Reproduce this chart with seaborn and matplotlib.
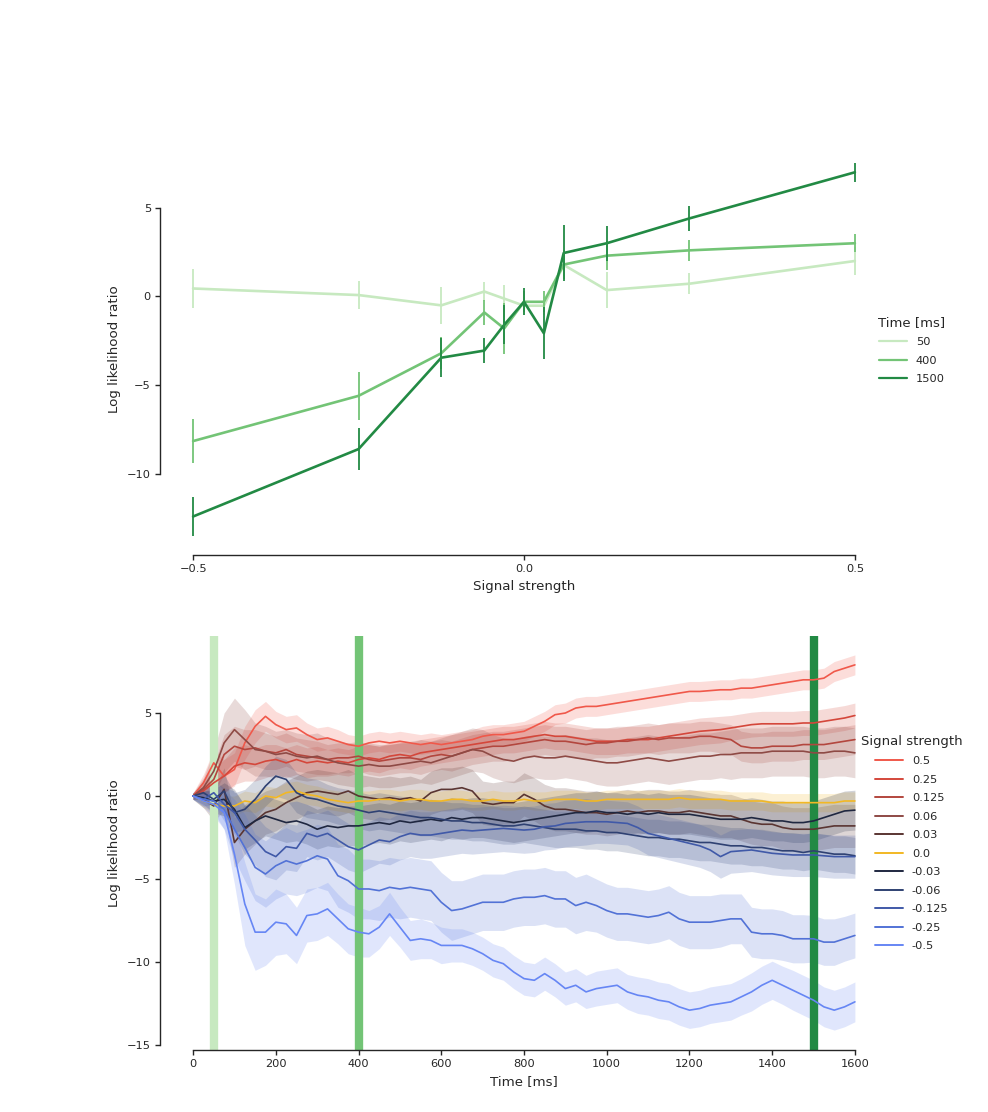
import numpy as np
import pandas as pd
import matplotlib
matplotlib.use("Agg")
import matplotlib.pyplot as plt
from matplotlib.lines import Line2D
import seaborn as sns

# ---------------- data: top panel ----------------
signal_strength = [-0.5, -0.25, -0.125, -0.06, -0.03, 0.0, 0.03, 0.06, 0.125, 0.25, 0.5]
time_labels = ["50", "400", "1500"]
llr_t50 = [0.45, 0.08, -0.5, 0.28, -0.12, -0.52, -0.52, 1.78, 0.36, 0.72, 2.0]
err_t50 = [1.1, 0.8, 1.05, 0.55, 0.75, 0.5, 0.5, 0.6, 1.0, 0.6, 0.8]
llr_t400 = [-8.15, -5.6, -3.2, -0.9, -1.8, -0.3, -0.3, 1.8, 2.3, 2.6, 3.0]
err_t400 = [1.25, 1.35, 0.9, 0.7, 1.45, 0.6, 0.6, 0.8, 0.8, 0.6, 0.5]
llr_t1500 = [-12.4, -8.6, -3.45, -3.05, -1.6, -0.3, -2.07, 2.45, 3.0, 4.4, 7.0]
err_t1500 = [1.1, 1.2, 1.1, 0.7, 1.1, 0.75, 1.45, 1.6, 1.0, 0.7, 0.55]

# ---------------- data: bottom panel ----------------
time_ms = list(range(0, 1601, 25))
marker_times = [50, 400, 1500]
strength_labels = ["0.5", "0.25", "0.125", "0.06", "0.03", "0.0",
                   "-0.03", "-0.06", "-0.125", "-0.25", "-0.5"]

llr_p050 = [0.0, 0.8, 2.0, 1.2, 1.6, 3.2, 4.2, 4.8, 4.3, 4.0, 4.1, 3.7, 3.4,
            3.5, 3.3, 3.1, 3.0, 3.2, 3.3, 3.2, 3.3, 3.2, 3.1, 3.2, 3.1, 3.2,
            3.3, 3.4, 3.6, 3.7, 3.7, 3.8, 3.9, 4.2, 4.5, 4.9, 5.0, 5.3, 5.4,
            5.4, 5.5, 5.6, 5.7, 5.8, 5.9, 6.0, 6.1, 6.2, 6.3, 6.3, 6.35, 6.4,
            6.4, 6.5, 6.5, 6.6, 6.7, 6.8, 6.9, 7.0, 7.0, 7.1, 7.5, 7.7, 7.9]
ci_p050 = [0.2, 0.5, 0.8, 1.0, 1.0, 1.0, 1.0, 0.9, 0.8, 0.8, 0.8, 0.7, 0.7,
           0.7, 0.7, 0.6, 0.6, 0.6, 0.6, 0.6, 0.6, 0.6, 0.6, 0.6, 0.6, 0.6,
           0.6, 0.6, 0.6, 0.6, 0.6, 0.6, 0.6, 0.6, 0.6, 0.6, 0.6, 0.6, 0.6,
           0.6, 0.6, 0.6, 0.6, 0.6, 0.6, 0.6, 0.6, 0.6, 0.6, 0.6, 0.6, 0.6,
           0.6, 0.6, 0.6, 0.6, 0.6, 0.6, 0.6, 0.6, 0.6, 0.6, 0.6, 0.6, 0.6]

llr_p025 = [0.0, 0.3, 0.8, 1.2, 1.8, 2.0, 1.9, 2.1, 2.2, 2.0, 2.2, 2.0, 2.1,
            2.0, 2.1, 2.0, 2.2, 2.3, 2.2, 2.4, 2.5, 2.4, 2.6, 2.7, 2.8, 2.9,
            3.0, 3.1, 3.2, 3.3, 3.4, 3.4, 3.5, 3.6, 3.7, 3.6, 3.6, 3.5, 3.4,
            3.3, 3.3, 3.3, 3.4, 3.4, 3.4, 3.5, 3.6, 3.7, 3.8, 3.9, 3.95, 4.0,
            4.1, 4.2, 4.3, 4.35, 4.35, 4.35, 4.35, 4.4, 4.4, 4.5, 4.6, 4.7, 4.85]
ci_p025 = [0.2, 0.5, 0.8, 1.0, 1.1, 1.1, 1.0, 1.0, 0.9, 0.9, 0.9, 0.9, 0.9,
           0.8, 0.8, 0.8, 0.8, 0.8, 0.8, 0.8, 0.8, 0.8, 0.8, 0.8, 0.8, 0.8,
           0.8, 0.8, 0.8, 0.8, 0.8, 0.8, 0.8, 0.8, 0.8, 0.8, 0.8, 0.8, 0.8,
           0.8, 0.8, 0.8, 0.8, 0.8, 0.8, 0.8, 0.8, 0.8, 0.8, 0.8, 0.8, 0.8,
           0.75, 0.75, 0.75, 0.75, 0.75, 0.75, 0.75, 0.75, 0.75, 0.75, 0.75, 0.75, 0.75]

llr_p0125 = [0.0, 0.4, 1.0, 2.5, 3.0, 2.8, 2.9, 2.7, 2.6, 2.8, 2.5, 2.4, 2.3,
             2.2, 2.3, 2.3, 2.4, 2.2, 2.1, 2.2, 2.3, 2.3, 2.2, 2.4, 2.5, 2.4,
             2.6, 2.8, 2.9, 3.0, 3.0, 3.1, 3.2, 3.3, 3.4, 3.3, 3.3, 3.2, 3.1,
             3.2, 3.2, 3.3, 3.3, 3.4, 3.5, 3.4, 3.5, 3.5, 3.5, 3.6, 3.6, 3.5,
             3.4, 3.0, 2.9, 2.9, 3.0, 3.0, 3.0, 3.1, 3.1, 3.1, 3.2, 3.3, 3.4]
ci_p0125 = [0.2, 0.5, 0.9, 1.2, 1.2, 1.2, 1.1, 1.1, 1.0, 1.0, 1.0, 1.0, 1.0,
            0.9, 0.9, 0.9, 0.9, 0.9, 0.9, 0.9, 0.9, 0.9, 0.9, 0.9, 0.9, 0.9,
            0.9, 0.9, 0.9, 0.9, 0.9, 0.9, 0.9, 0.9, 0.9, 0.9, 0.9, 0.9, 0.9,
            0.9, 0.9, 0.9, 0.9, 0.9, 0.9, 0.9, 0.9, 0.9, 0.9, 0.9, 0.9, 0.9,
            0.9, 0.9, 0.9, 0.9, 0.9, 0.9, 0.9, 0.9, 0.9, 0.9, 0.9, 0.9, 0.9]

llr_p006 = [0.0, 0.5, 1.5, 3.2, 4.0, 3.4, 2.8, 2.7, 2.5, 2.6, 2.4, 2.3, 2.4,
            2.2, 2.0, 1.9, 1.8, 1.9, 1.8, 1.8, 1.9, 2.0, 2.1, 2.0, 2.2, 2.4,
            2.6, 2.8, 2.7, 2.4, 2.2, 2.1, 2.3, 2.4, 2.3, 2.3, 2.4, 2.3, 2.2,
            2.1, 2.0, 2.0, 2.1, 2.2, 2.3, 2.2, 2.1, 2.2, 2.3, 2.4, 2.4, 2.5,
            2.5, 2.6, 2.6, 2.6, 2.7, 2.7, 2.7, 2.7, 2.6, 2.6, 2.7, 2.7, 2.6]
ci_p006 = [0.2, 0.6, 1.2, 1.8, 1.9, 1.8, 1.6, 1.5, 1.4, 1.4, 1.4, 1.4, 1.4,
           1.3, 1.3, 1.3, 1.3, 1.3, 1.3, 1.3, 1.3, 1.3, 1.3, 1.3, 1.3, 1.3,
           1.3, 1.3, 1.3, 1.3, 1.3, 1.3, 1.3, 1.3, 1.3, 1.3, 1.3, 1.3, 1.3,
           1.4, 1.4, 1.4, 1.4, 1.4, 1.4, 1.4, 1.4, 1.4, 1.4, 1.4, 1.4, 1.4,
           1.5, 1.5, 1.5, 1.5, 1.5, 1.5, 1.5, 1.5, 1.5, 1.5, 1.5, 1.5, 1.5]

llr_p003 = [0.0, -0.2, -0.6, 0.4, -2.8, -2.0, -1.5, -1.0, -0.8, -0.4, -0.1, 0.2, 0.3,
            0.2, 0.1, 0.3, 0.0, -0.1, -0.2, -0.1, -0.2, -0.1, -0.3, 0.2, 0.4, 0.4,
            0.5, 0.3, -0.4, -0.5, -0.4, -0.4, 0.1, -0.2, -0.6, -0.8, -0.8, -0.9, -1.0,
            -1.0, -1.1, -1.0, -0.9, -1.0, -0.9, -0.9, -1.0, -1.0, -0.9, -1.0, -1.1, -1.2,
            -1.2, -1.4, -1.6, -1.7, -1.7, -1.9, -2.0, -2.0, -2.0, -1.9, -1.8, -1.8, -1.8]
ci_p003 = [0.2, 0.5, 0.9, 1.3, 1.5, 1.5, 1.4, 1.3, 1.3, 1.3, 1.3, 1.3, 1.3,
           1.3, 1.3, 1.3, 1.3, 1.3, 1.3, 1.3, 1.3, 1.3, 1.3, 1.3, 1.3, 1.3,
           1.3, 1.3, 1.3, 1.3, 1.3, 1.3, 1.3, 1.3, 1.3, 1.3, 1.3, 1.3, 1.3,
           1.3, 1.3, 1.3, 1.3, 1.3, 1.3, 1.3, 1.3, 1.3, 1.3, 1.3, 1.3, 1.3,
           1.3, 1.3, 1.3, 1.3, 1.3, 1.3, 1.3, 1.3, 1.3, 1.3, 1.3, 1.3, 1.3]

llr_zero = [0.0, -0.3, -0.5, -0.6, -0.6, -0.3, -0.4, 0.0, -0.1, 0.2, 0.3, 0.1, 0.0,
            -0.2, -0.3, -0.4, -0.3, -0.3, -0.2, -0.2, -0.3, -0.2, -0.2, -0.3, -0.3, -0.2,
            -0.2, -0.3, -0.3, -0.2, -0.3, -0.3, -0.2, -0.3, -0.3, -0.2, -0.2, -0.2, -0.3,
            -0.3, -0.2, -0.2, -0.2, -0.2, -0.2, -0.2, -0.2, -0.1, -0.2, -0.2, -0.2, -0.2,
            -0.3, -0.3, -0.3, -0.3, -0.4, -0.4, -0.4, -0.4, -0.4, -0.4, -0.4, -0.3, -0.3]
ci_zero = [0.2, 0.4, 0.5, 0.6, 0.6, 0.6, 0.6, 0.6, 0.6, 0.6, 0.6, 0.6, 0.6,
           0.6, 0.6, 0.6, 0.6, 0.6, 0.6, 0.6, 0.6, 0.6, 0.6, 0.6, 0.6, 0.6,
           0.55, 0.55, 0.55, 0.55, 0.55, 0.55, 0.55, 0.55, 0.55, 0.55, 0.55, 0.55, 0.55,
           0.55, 0.55, 0.55, 0.55, 0.55, 0.55, 0.55, 0.55, 0.55, 0.55, 0.55, 0.55, 0.55,
           0.55, 0.55, 0.55, 0.55, 0.55, 0.55, 0.55, 0.55, 0.55, 0.55, 0.55, 0.55, 0.55]

llr_m003 = [0.0, -0.1, -0.3, -0.2, -0.8, -1.9, -1.5, -1.2, -1.4, -1.6, -1.5, -1.7, -2.0,
            -1.8, -1.9, -1.8, -1.8, -1.7, -1.6, -1.7, -1.5, -1.6, -1.5, -1.4, -1.5, -1.3,
            -1.4, -1.3, -1.3, -1.4, -1.5, -1.6, -1.5, -1.4, -1.3, -1.2, -1.1, -1.0, -1.0,
            -0.9, -1.0, -1.0, -1.1, -1.0, -1.1, -1.0, -1.1, -1.1, -1.1, -1.2, -1.3, -1.4,
            -1.4, -1.4, -1.3, -1.4, -1.5, -1.5, -1.6, -1.6, -1.5, -1.3, -1.1, -0.9, -0.85]
ci_m003 = [0.2, 0.4, 0.7, 1.0, 1.2, 1.3, 1.3, 1.2, 1.2, 1.2, 1.2, 1.2, 1.2,
           1.2, 1.2, 1.2, 1.2, 1.2, 1.2, 1.2, 1.2, 1.2, 1.2, 1.2, 1.2, 1.2,
           1.2, 1.2, 1.2, 1.2, 1.2, 1.2, 1.2, 1.2, 1.2, 1.2, 1.2, 1.2, 1.2,
           1.2, 1.2, 1.2, 1.2, 1.2, 1.2, 1.2, 1.2, 1.2, 1.2, 1.2, 1.2, 1.2,
           1.2, 1.2, 1.2, 1.2, 1.2, 1.2, 1.2, 1.2, 1.2, 1.2, 1.2, 1.2, 1.2]

llr_m006 = [0.0, 0.2, -0.2, 0.3, -1.0, -0.8, -0.2, 0.6, 1.2, 1.0, 0.2, -0.1, -0.2,
            -0.4, -0.6, -0.7, -0.85, -1.0, -0.9, -1.0, -1.1, -1.2, -1.3, -1.3, -1.4, -1.5,
            -1.5, -1.6, -1.6, -1.7, -1.8, -1.8, -1.7, -1.8, -1.9, -2.0, -2.0, -2.0, -2.1,
            -2.1, -2.2, -2.2, -2.3, -2.4, -2.5, -2.5, -2.6, -2.6, -2.7, -2.8, -2.8, -2.9,
            -3.0, -3.0, -3.1, -3.1, -3.2, -3.3, -3.3, -3.4, -3.3, -3.4, -3.5, -3.5, -3.6]
ci_m006 = [0.2, 0.4, 0.7, 1.0, 1.2, 1.2, 1.2, 1.2, 1.2, 1.2, 1.2, 1.2, 1.2,
           1.1, 1.1, 1.1, 1.1, 1.1, 1.1, 1.1, 1.1, 1.1, 1.1, 1.1, 1.1, 1.1,
           1.1, 1.1, 1.1, 1.1, 1.1, 1.1, 1.1, 1.1, 1.1, 1.1, 1.1, 1.1, 1.1,
           1.1, 1.1, 1.1, 1.1, 1.1, 1.1, 1.1, 1.1, 1.1, 1.1, 1.1, 1.1, 1.1,
           1.1, 1.1, 1.1, 1.1, 1.1, 1.1, 1.1, 1.1, 1.1, 1.1, 1.1, 1.1, 1.1]

llr_m0125 = [0.0, -0.2, 0.2, -0.5, -1.0, -2.0, -2.65, -3.35, -3.65, -3.05, -3.15, -2.25, -2.45,
             -2.25, -2.65, -3.05, -3.25, -2.95, -2.65, -2.75, -2.45, -2.25, -2.35, -2.35, -2.25, -2.15,
             -2.05, -2.1, -2.05, -2.0, -1.95, -2.0, -2.05, -2.0, -1.85, -1.8, -1.65, -1.6, -1.55,
             -1.55, -1.55, -1.6, -1.65, -1.9, -2.25, -2.4, -2.55, -2.7, -2.85, -3.0, -3.25, -3.65,
             -3.35, -3.3, -3.25, -3.35, -3.45, -3.5, -3.55, -3.55, -3.55, -3.6, -3.65, -3.65, -3.65]
ci_m0125 = [0.2, 0.4, 0.7, 1.0, 1.3, 1.5, 1.5, 1.5, 1.4, 1.4, 1.4, 1.4, 1.4,
            1.4, 1.4, 1.4, 1.4, 1.4, 1.4, 1.4, 1.4, 1.4, 1.4, 1.4, 1.4, 1.4,
            1.4, 1.4, 1.4, 1.4, 1.4, 1.4, 1.4, 1.4, 1.4, 1.4, 1.4, 1.4, 1.4,
            1.3, 1.3, 1.3, 1.3, 1.3, 1.3, 1.3, 1.3, 1.3, 1.3, 1.3, 1.3, 1.3,
            1.3, 1.3, 1.3, 1.3, 1.3, 1.3, 1.3, 1.3, 1.3, 1.3, 1.3, 1.3, 1.3]

llr_m025 = [0.0, -0.2, -0.3, -0.8, -2.0, -3.1, -4.3, -4.7, -4.2, -3.9, -4.1, -3.9, -3.6,
            -3.8, -4.8, -5.1, -5.6, -5.6, -5.7, -5.5, -5.6, -5.5, -5.6, -5.7, -6.4, -6.9,
            -6.8, -6.6, -6.4, -6.4, -6.4, -6.2, -6.1, -6.1, -6.0, -6.2, -6.2, -6.6, -6.4,
            -6.6, -6.9, -7.1, -7.1, -7.2, -7.3, -7.2, -7.0, -7.4, -7.6, -7.6, -7.6, -7.5,
            -7.4, -7.4, -8.2, -8.3, -8.3, -8.4, -8.6, -8.6, -8.6, -8.8, -8.8, -8.6, -8.4]
ci_m025 = [0.2, 0.4, 0.7, 1.2, 1.8, 2.0, 2.0, 2.0, 2.0, 2.0, 1.9, 1.9, 1.9,
           1.9, 1.9, 1.9, 1.8, 1.8, 1.8, 1.8, 1.8, 1.8, 1.8, 1.8, 1.8, 1.8,
           1.7, 1.7, 1.7, 1.7, 1.7, 1.7, 1.7, 1.7, 1.7, 1.7, 1.7, 1.7, 1.7,
           1.6, 1.6, 1.6, 1.6, 1.6, 1.6, 1.6, 1.6, 1.6, 1.6, 1.6, 1.6, 1.6,
           1.5, 1.5, 1.5, 1.5, 1.5, 1.5, 1.45, 1.45, 1.4, 1.4, 1.4, 1.35, 1.35]

llr_m050 = [0.0, -0.3, -0.5, -1.0, -3.5, -6.5, -8.2, -8.2, -7.6, -7.7, -8.4, -7.2, -7.1,
            -6.8, -7.4, -8.0, -8.2, -8.3, -7.9, -7.1, -7.9, -8.7, -8.6, -8.7, -9.0, -9.0,
            -9.0, -9.2, -9.5, -9.9, -10.1, -10.6, -11.0, -11.1, -10.7, -11.1, -11.6, -11.4, -11.8,
            -11.6, -11.5, -11.4, -11.8, -12.0, -12.1, -12.3, -12.4, -12.7, -12.9, -12.8, -12.6, -12.5,
            -12.4, -12.1, -11.8, -11.4, -11.1, -11.4, -11.7, -12.0, -12.3, -12.7, -12.9, -12.7, -12.4]
ci_m050 = [0.2, 0.4, 0.7, 1.0, 1.8, 2.5, 2.3, 2.0, 2.0, 1.8, 1.7, 1.6, 1.6,
           1.6, 1.5, 1.5, 1.5, 1.4, 1.3, 1.3, 1.2, 1.2, 1.2, 1.1, 1.1, 1.0,
           1.0, 1.0, 1.0, 1.0, 1.0, 1.0, 1.0, 1.0, 1.0, 1.0, 1.0, 1.0, 1.0,
           1.05, 1.05, 1.05, 1.05, 1.1, 1.1, 1.1, 1.1, 1.1, 1.1, 1.1, 1.1, 1.1,
           1.1, 1.1, 1.15, 1.15, 1.15, 1.15, 1.2, 1.2, 1.2, 1.2, 1.2, 1.2, 1.2]

strength_colors = ["#f0584a", "#d4473b", "#b3463e", "#8e4a45", "#5a3532", "#f2b824",
                   "#1f2740", "#2f4172", "#4059a8", "#5272d6", "#6686f4"]

# ---------------- style ----------------
sns.set_style("ticks")
plt.rcParams.update({
    "font.family": ["DejaVu Sans"],
    "font.size": 9.5,
    "axes.labelsize": 9.6,
    "xtick.labelsize": 8.2,
    "ytick.labelsize": 8.2,
    "legend.fontsize": 8.2,
    "legend.title_fontsize": 9.5,
    "axes.linewidth": 1.0,
    "xtick.major.size": 3.5,
    "ytick.major.size": 3.5,
    "xtick.major.width": 1.0,
    "ytick.major.width": 1.0,
    "xtick.major.pad": 3,
    "ytick.major.pad": 3,
})

greens = sns.color_palette("Greens", 3)

fig = plt.figure(figsize=(9.88, 11.12), dpi=100)
W, H = 988.0, 1112.0
ax1 = fig.add_axes([160 / W, 1 - 555 / H, 728 / W, 412 / H])
ax2 = fig.add_axes([160 / W, 1 - 1050 / H, 728 / W, 414 / H])

# ---------------- top panel ----------------
top_means = {"50": llr_t50, "400": llr_t400, "1500": llr_t1500}
top_errs = {"50": err_t50, "400": err_t400, "1500": err_t1500}
rows = []
for lab in time_labels:
    for s, v in zip(signal_strength, top_means[lab]):
        rows.append({"Signal strength": s, "Log likelihood ratio": v, "Time [ms]": lab})
df_top = pd.DataFrame(rows)
pal_top = dict(zip(time_labels, greens))
sns.lineplot(data=df_top, x="Signal strength", y="Log likelihood ratio",
             hue="Time [ms]", hue_order=time_labels, palette=pal_top,
             linewidth=1.9, legend=False, ax=ax1, errorbar=None)
for lab in time_labels:
    m = np.array(top_means[lab]); e = np.array(top_errs[lab])
    ax1.vlines(signal_strength, m - e, m + e, colors=[pal_top[lab]], linewidth=1.3)

ax1.set_xlim(-0.55, 0.55)
ax1.set_ylim(-14.57, 8.65)
ax1.set_xticks([-0.5, 0.0, 0.5])
ax1.set_yticks([-10, -5, 0, 5])
ax1.set_xlabel("Signal strength")
ax1.set_ylabel("Log likelihood ratio")
sns.despine(ax=ax1, trim=True)

h1 = [Line2D([], [], color=pal_top[l], linewidth=1.6) for l in time_labels]
fig.legend(h1, time_labels, title="Time [ms]", loc="center", frameon=False,
           bbox_to_anchor=(912 / W, 1 - 350 / H), bbox_transform=fig.transFigure,
           handlelength=2.4, labelspacing=0.75)

# ---------------- bottom panel ----------------
bottom_means = [llr_p050, llr_p025, llr_p0125, llr_p006, llr_p003, llr_zero,
                llr_m003, llr_m006, llr_m0125, llr_m025, llr_m050]
bottom_cis = [ci_p050, ci_p025, ci_p0125, ci_p006, ci_p003, ci_zero,
              ci_m003, ci_m006, ci_m0125, ci_m025, ci_m050]
rows = []
for lab, vals in zip(strength_labels, bottom_means):
    for t, v in zip(time_ms, vals):
        rows.append({"Time [ms]": t, "Log likelihood ratio": v, "Signal strength": lab})
df_bot = pd.DataFrame(rows)
pal_bot = dict(zip(strength_labels, strength_colors))

for lab, vals, ci in zip(strength_labels, bottom_means, bottom_cis):
    m = np.array(vals); c = np.array(ci)
    ax2.fill_between(time_ms, m - c, m + c, color=pal_bot[lab], alpha=0.2,
                     linewidth=0, zorder=1)

for tm, col in zip(marker_times, greens):
    ax2.axvline(tm, color=col, linewidth=6, zorder=1.5)

sns.lineplot(data=df_bot, x="Time [ms]", y="Log likelihood ratio",
             hue="Signal strength", hue_order=strength_labels, palette=pal_bot,
             linewidth=1.2, legend=False, ax=ax2, errorbar=None, zorder=2)

ax2.set_xlim(-80, 1680)
ax2.set_ylim(-15.3, 9.64)
ax2.set_xticks(list(range(0, 1601, 200)))
ax2.set_yticks([-15, -10, -5, 0, 5])
ax2.set_xlabel("Time [ms]")
ax2.set_ylabel("Log likelihood ratio")
sns.despine(ax=ax2, trim=True)

h2 = [Line2D([], [], color=pal_bot[l], linewidth=1.4) for l in strength_labels]
fig.legend(h2, strength_labels, title="Signal strength", loc="center", frameon=False,
           bbox_to_anchor=(912 / W, 1 - 843 / H), bbox_transform=fig.transFigure,
           handlelength=2.4, labelspacing=0.75)

fig.savefig("out.png", dpi=100)
